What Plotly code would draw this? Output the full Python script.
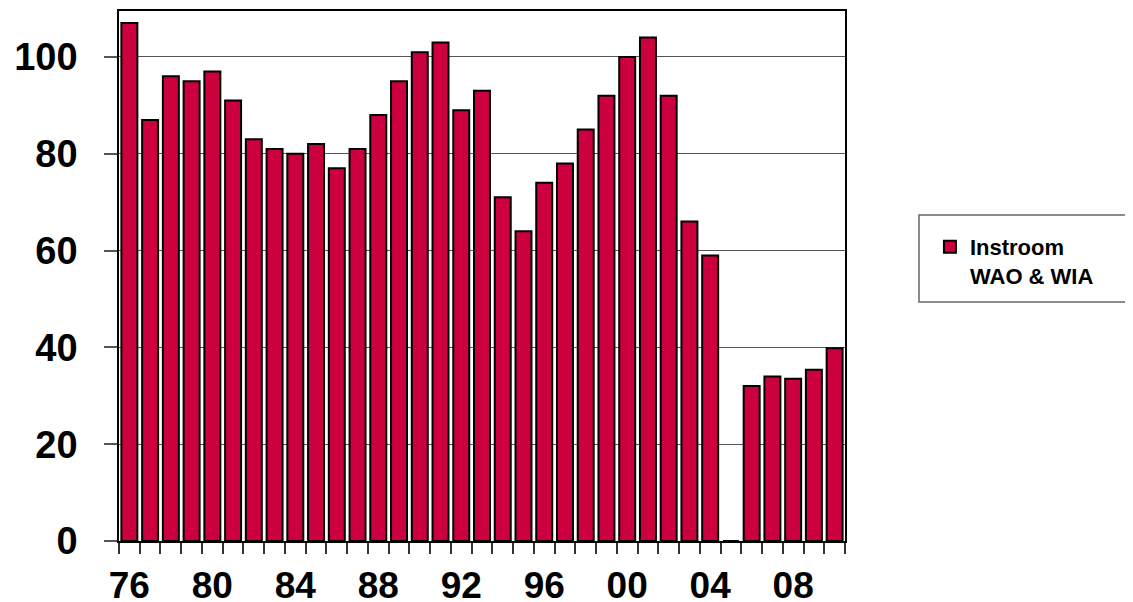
import plotly.graph_objects as go

years = list(range(1976, 2011))
values = [107, 87, 96, 95, 97, 91, 83, 81, 80, 82, 77, 81, 88, 95, 101, 103, 89, 93,
          71, 64, 74, 78, 85, 92, 100, 104, 92, 66, 59, 0, 32, 34, 33.5, 35.4, 39.8]
series_name = "Instroom<br>WAO & WIA"
label_years = [1976, 1980, 1984, 1988, 1992, 1996, 2000, 2004, 2008]
label_text = [f"{y % 100:02d}" for y in label_years]
y_ticks = [0, 20, 40, 60, 80, 100]

FONT = "Liberation Sans, Arial, sans-serif"
BAR = "#CC003F"

PLOT_H = 530
fig = go.Figure()
fig.add_trace(go.Bar(
    x=years, y=values, name=series_name,
    marker=dict(color=BAR, line=dict(color="black", width=2)),
    showlegend=True,
))

fig.update_layout(
    width=1125, height=595,
    margin=dict(l=111, r=288, t=3, b=62, autoexpand=False),
    paper_bgcolor="white", plot_bgcolor="white",
    bargap=0.23,
    font=dict(family=FONT, color="black"),
    showlegend=True,
    legend=dict(
        x=1.117, y=1 - (226 - 11) / PLOT_H, xanchor="left", yanchor="top",
        bgcolor="rgba(0,0,0,0)", borderwidth=0,
        font=dict(family=FONT, size=22, weight="bold", color="black"),
        valign="top",
    ),
    shapes=[
        dict(type="rect", xref="paper", yref="paper",
             x0=(919 - 119) / 726, x1=(1140 - 119) / 726,
             y0=(541 - 302) / PLOT_H, y1=(541 - 215) / PLOT_H,
             line=dict(color="#666666", width=1.5), fillcolor="rgba(0,0,0,0)"),
    ],
)

fig.update_xaxes(
    range=[years[0] - 0.5, years[-1] + 0.5],
    tickmode="array", tickvals=label_years, ticktext=label_text,
    ticks="", ticklen=0,
    tickfont=dict(family=FONT, size=37, weight="bold", color="black"),
    ticklabelstandoff=11,
    showgrid=False, zeroline=False,
    showline=True, linecolor="black", linewidth=1.5, mirror=True,
    minor=dict(tickmode="array", tickvals=[y - 0.5 for y in years] + [years[-1] + 0.5],
               ticks="outside", ticklen=11, tickcolor="#333333", tickwidth=1.5, showgrid=False),
)
fig.update_yaxes(
    range=[0, 109.5],
    tickmode="array", tickvals=y_ticks,
    ticks="outside", ticklen=13, tickcolor="#555555", tickwidth=1.5,
    tickfont=dict(family=FONT, size=38, weight="bold", color="black"),
    ticklabelstandoff=19,
    showgrid=True, gridcolor="#555555", gridwidth=1.2,
    zeroline=False,
    showline=True, linecolor="black", linewidth=1.5, mirror=True,
)

fig.write_html("out.html")
